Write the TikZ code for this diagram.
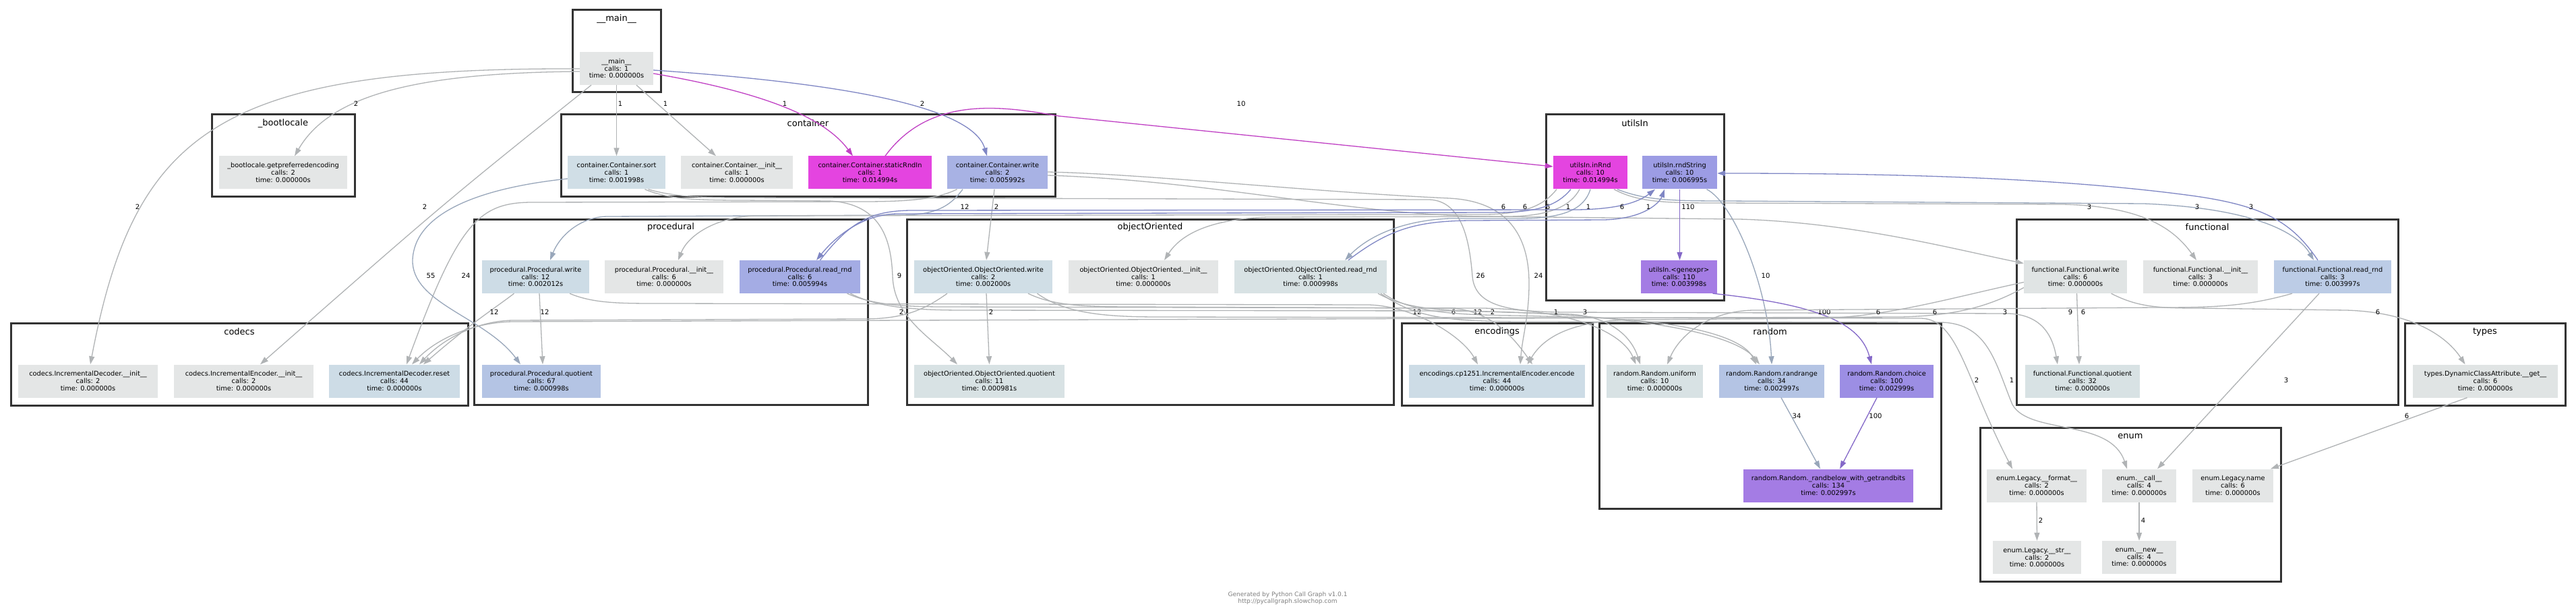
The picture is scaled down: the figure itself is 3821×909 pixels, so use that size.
\documentclass[tikz,border=0pt]{standalone}
\usepackage{fontspec}
\setmainfont{DejaVu Sans}
\usepackage{tikz}
\usetikzlibrary{arrows.meta}

\definecolor{cGrey}{HTML}{E4E6E6}
\definecolor{cSort}{HTML}{D0DEE6}
\definecolor{cPale}{HTML}{CDDCE6}
\definecolor{cMist}{HTML}{D8E2E4}
\definecolor{cMistB}{HTML}{E0E4E4}
\definecolor{cBlue}{HTML}{B4C4E4}
\definecolor{cSky}{HTML}{BCCCE6}
\definecolor{cLav}{HTML}{A8B2E4}
\definecolor{cLavB}{HTML}{A4ACE4}
\definecolor{cViolet}{HTML}{9C9CE4}
\definecolor{cVioletB}{HTML}{9C8EE4}
\definecolor{cPurple}{HTML}{A47CE4}
\definecolor{cMag}{HTML}{E444E0}
\definecolor{grpline}{HTML}{333333}
\definecolor{egrey}{HTML}{B0B3B5}
\definecolor{eslate}{HTML}{98A6BA}
\definecolor{eblue}{HTML}{7F86C4}
\definecolor{emag}{HTML}{C040C4}
\definecolor{epurp}{HTML}{8468C8}
\definecolor{credit}{HTML}{808080}

\newcommand{\fnfont}{\fontsize{9.8}{10.8}\selectfont}
\newcommand{\grpfont}{\fontsize{13}{15}\selectfont}
\newcommand{\lblfont}{\fontsize{10}{12}\selectfont}
\newcommand{\credfont}{\fontsize{9}{10}\selectfont}

\tikzset{
  fn/.style={rectangle, inner sep=0pt, minimum height=49pt, align=center, font=\fnfont},
  grp/.style={draw=grpline, line width=3pt},
  grptitle/.style={inner sep=0pt, font=\grpfont},
  ge/.style={draw=egrey, line width=1.3pt, -{Triangle[length=12pt,width=8pt]}},
  se/.style={ge, draw=eslate},
  be/.style={ge, draw=eblue},
  me/.style={ge, draw=emag},
  pe/.style={ge, draw=epurp},
  lbl/.style={inner sep=0pt, font=\lblfont},
}

\begin{document}
\begin{tikzpicture}[x=1pt,y=-1pt]
\fill[white] (0,0) rectangle (3821,909);
\useasboundingbox (0,0) rectangle (3821,909);

% module clusters
\draw[grp] (849,15) rectangle (980,137);
\node[grptitle] (tMain) at (914.5,28) {\_\_main\_\_};
\draw[grp] (314,170) rectangle (526,291);
\node[grptitle] (tBoot) at (420,183) {\_bootlocale};
\draw[grp] (832,170) rectangle (1565,291);
\node[grptitle] (tCont) at (1198.5,183) {container};
\draw[grp] (2293,170) rectangle (2557,445);
\node[grptitle] (tUtils) at (2425,183) {utilsIn};
\draw[grp] (703,325) rectangle (1287,600);
\node[grptitle] (tProc) at (995,337) {procedural};
\draw[grp] (1345,325) rectangle (2067,600);
\node[grptitle] (tOO) at (1706,337) {objectOriented};
\draw[grp] (2991,325) rectangle (3557,600);
\node[grptitle] (tFunc) at (3274,337) {functional};
\draw[grp] (16,479) rectangle (694,601);
\node[grptitle] (tCodecs) at (355,492) {codecs};
\draw[grp] (2079,479) rectangle (2362,601);
\node[grptitle] (tEnc) at (2220.5,492) {encodings};
\draw[grp] (2372,479) rectangle (2879,754);
\node[grptitle] (tRandom) at (2625.5,492) {random};
\draw[grp] (3567,479) rectangle (3805,601);
\node[grptitle] (tTypes) at (3686,492) {types};
\draw[grp] (2937,634) rectangle (3383,862);
\node[grptitle] (tEnum) at (3160,647) {enum};

% functions
\node[fn, fill=cGrey, minimum width=109pt] (main) at (914.5,101.5) {\_\_main\_\_\\calls: 1\\time: 0.000000s};
\node[fn, fill=cGrey, minimum width=190pt] (boot) at (420,256) {\_bootlocale.getpreferredencoding\\calls: 2\\time: 0.000000s};
\node[fn, fill=cSort, minimum width=145pt] (sort) at (914.5,256) {container.Container.sort\\calls: 1\\time: 0.001998s};
\node[fn, fill=cGrey, minimum width=166pt] (Cinit) at (1093,256) {container.Container.\_\_init\_\_\\calls: 1\\time: 0.000000s};
\node[fn, fill=cMag, minimum width=183pt] (static) at (1290.5,256) {container.Container.staticRndIn\\calls: 1\\time: 0.014994s};
\node[fn, fill=cLav, minimum width=149pt] (Cwrite) at (1479.5,256) {container.Container.write\\calls: 2\\time: 0.005992s};
\node[fn, fill=cMag, minimum width=110pt] (inRnd) at (2359,256) {utilsIn.inRnd\\calls: 10\\time: 0.014994s};
\node[fn, fill=cViolet, minimum width=111pt] (rndStr) at (2491.5,256) {utilsIn.rndString\\calls: 10\\time: 0.006995s};
\node[fn, fill=cPale, minimum width=159pt] (pwrite) at (794.5,410.5) {procedural.Procedural.write\\calls: 12\\time: 0.002012s};
\node[fn, fill=cGrey, minimum width=176pt] (pinit) at (985,410.5) {procedural.Procedural.\_\_init\_\_\\calls: 6\\time: 0.000000s};
\node[fn, fill=cLavB, minimum width=179pt] (pread) at (1186.5,410.5) {procedural.Procedural.read\_rnd\\calls: 6\\time: 0.005994s};
\node[fn, fill=cSort, minimum width=205pt] (OOwrite) at (1458.5,410.5) {objectOriented.ObjectOriented.write\\calls: 2\\time: 0.002000s};
\node[fn, fill=cGrey, minimum width=222pt] (OOinit) at (1696,410.5) {objectOriented.ObjectOriented.\_\_init\_\_\\calls: 1\\time: 0.000000s};
\node[fn, fill=cMist, minimum width=226pt] (OOread) at (1944,410.5) {objectOriented.ObjectOriented.read\_rnd\\calls: 1\\time: 0.000998s};
\node[fn, fill=cPurple, minimum width=113pt] (genexpr) at (2490.5,410.5) {utilsIn.<genexpr>\\calls: 110\\time: 0.003998s};
\node[fn, fill=cMistB, minimum width=153pt] (Fwrite) at (3078.5,410.5) {functional.Functional.write\\calls: 6\\time: 0.000000s};
\node[fn, fill=cGrey, minimum width=170pt] (Finit) at (3264,410.5) {functional.Functional.\_\_init\_\_\\calls: 3\\time: 0.000000s};
\node[fn, fill=cSky, minimum width=174pt] (Fread) at (3460,410.5) {functional.Functional.read\_rnd\\calls: 3\\time: 0.003997s};
\node[fn, fill=cGrey, minimum width=207pt] (IDinit) at (130.5,565) {codecs.IncrementalDecoder.\_\_init\_\_\\calls: 2\\time: 0.000000s};
\node[fn, fill=cGrey, minimum width=207pt] (IEinit) at (361.5,565) {codecs.IncrementalEncoder.\_\_init\_\_\\calls: 2\\time: 0.000000s};
\node[fn, fill=cPale, minimum width=194pt] (reset) at (585,565) {codecs.IncrementalDecoder.reset\\calls: 44\\time: 0.000000s};
\node[fn, fill=cBlue, minimum width=176pt] (pquot) at (803,565) {procedural.Procedural.quotient\\calls: 67\\time: 0.000998s};
\node[fn, fill=cMist, minimum width=223pt] (OOquot) at (1467.5,565) {objectOriented.ObjectOriented.quotient\\calls: 11\\time: 0.000981s};
\node[fn, fill=cPale, minimum width=261pt] (encode) at (2220.5,565) {encodings.cp1251.IncrementalEncoder.encode\\calls: 44\\time: 0.000000s};
\node[fn, fill=cMist, minimum width=143pt] (uniform) at (2454.5,565) {random.Random.uniform\\calls: 10\\time: 0.000000s};
\node[fn, fill=cBlue, minimum width=156pt] (randrange) at (2628,565) {random.Random.randrange\\calls: 34\\time: 0.002997s};
\node[fn, fill=cVioletB, minimum width=139pt] (choice) at (2798.5,565) {random.Random.choice\\calls: 100\\time: 0.002999s};
\node[fn, fill=cMist, minimum width=170pt] (Fquot) at (3089,565) {functional.Functional.quotient\\calls: 32\\time: 0.000000s};
\node[fn, fill=cMistB, minimum width=215pt] (types) at (3686.5,565) {types.DynamicClassAttribute.\_\_get\_\_\\calls: 6\\time: 0.000000s};
\node[fn, fill=cPurple, minimum width=252pt] (randbelow) at (2712,720) {random.Random.\_randbelow\_with\_getrandbits\\calls: 134\\time: 0.002997s};
\node[fn, fill=cGrey, minimum width=148pt] (format) at (3021,720) {enum.Legacy.\_\_format\_\_\\calls: 2\\time: 0.000000s};
\node[fn, fill=cGrey, minimum width=110pt] (call) at (3173,720) {enum.\_\_call\_\_\\calls: 4\\time: 0.000000s};
\node[fn, fill=cGrey, minimum width=120pt] (name) at (3312,720) {enum.Legacy.name\\calls: 6\\time: 0.000000s};
\node[fn, fill=cGrey, minimum width=131pt] (str) at (3021.5,826.5) {enum.Legacy.\_\_str\_\_\\calls: 2\\time: 0.000000s};
\node[fn, fill=cGrey, minimum width=110pt] (new) at (3173,826.5) {enum.\_\_new\_\_\\calls: 4\\time: 0.000000s};

% calls from __main__
\draw[ge] ([yshift=-4.5pt]main.west) .. controls (620,108) and (490,140) .. ([xshift=17pt]boot.north) node[lbl, at={(528,154)}] {2};
\draw[ge] ([yshift=-0.5pt]main.west) .. controls (330,100) and (200,190) .. ([xshift=3.5pt]IDinit.north) node[lbl, at={(204,307)}] {2};
\draw[ge] ([xshift=-37.5pt]main.south) .. controls (660,300) .. ([xshift=24.5pt]IEinit.north) node[lbl, at={(630,307)}] {2};
\draw[ge] (main.south) -- (sort.north) node[lbl, at={(920,154)}] {1};
\draw[ge] ([xshift=29.5pt]main.south) -- ([xshift=-31pt]Cinit.north) node[lbl, at={(987,154)}] {1};
\draw[me] ([yshift=-7.5pt]main.east) .. controls (1120,135) and (1220,170) .. ([xshift=-25.5pt]static.north) node[lbl, at={(1164,154)}] {1};
\draw[be] ([yshift=-2.5pt]main.east) .. controls (1200,120) and (1440,150) .. ([xshift=-15.5pt]Cwrite.north) node[lbl, at={(1368,154)}] {2};

% container
\draw[me] ([xshift=22.5pt]static.north) .. controls (1380,140) and (1490,158) .. (1570,172) -- ([yshift=9pt]inRnd.west) node[lbl, at={(1841,154)}] {10};
\draw[se] ([xshift=-51.5pt]Cwrite.south) .. controls (1410,305) and (1390,318) .. (1340,319) -- (900,321) .. controls (860,322) and (830,350) .. ([xshift=21.5pt]pwrite.north) node[lbl, at={(1431,307)}] {12};
\draw[ge] ([xshift=-4.5pt]Cwrite.south) -- ([xshift=4.5pt]OOwrite.north) node[lbl, at={(1478,307)}] {2};
\draw[ge] ([xshift=-60pt]Cwrite.south) .. controls (1390,295) and (1350,299) .. (1280,299) -- (790,300) .. controls (710,300) and (680,330) .. ([xshift=18pt]reset.north) node[lbl, at={(691,409)}] {24};
\draw[ge] ([yshift=1pt]Cwrite.east) .. controls (1700,258) and (1950,285) .. (2150,294) .. controls (2245,299) and (2268,360) .. (2268,420) .. controls (2268,470) and (2258,500) .. ([xshift=34.5pt]encode.north) node[lbl, at={(2282,409)}] {24};
\draw[ge] ([yshift=-4pt]Cwrite.east) .. controls (1800,268) and (2000,318) .. (2200,321) -- (2580,325) .. controls (2750,330) and (2900,370) .. ([yshift=20pt]Fwrite.west) node[lbl, at={(2296,307)}] {6};
\draw[se] ([yshift=-9pt]sort.west) .. controls (700,280) and (615,320) .. (612,385) .. controls (610,450) and (720,470) .. ([xshift=-31pt]pquot.north) node[lbl, at={(639,409)}] {55};
\draw[ge] ([xshift=42pt]sort.south) .. controls (990,295) and (1030,297) .. (1100,297) -- (1230,298) .. controls (1310,302) and (1322,360) .. (1324,410) .. controls (1326,470) and (1380,500) .. ([xshift=-47.5pt]OOquot.north) node[lbl, at={(1334,409)}] {9};
\draw[ge] ([xshift=47pt]sort.south) .. controls (1000,292) and (1040,293) .. (1100,293) -- (2120,296) .. controls (2170,298) and (2180,360) .. (2184,410) .. controls (2188,455) and (2240,462) .. (2320,463) -- (2980,465) .. controls (3030,467) and (3045,500) .. ([xshift=-37pt]Fquot.north) node[lbl, at={(2196,409)}] {26} node[lbl, at={(3071,463)}] {9};

% utilsIn
\draw[ge] ([xshift=-50pt]inRnd.south) .. controls (2290,305) and (2260,318) .. (2200,318) -- (1120,320) .. controls (1060,322) and (1020,350) .. ([xshift=21pt]pinit.north) node[lbl, at={(2230,307)}] {6};
\draw[be] ([xshift=-29pt]inRnd.south) .. controls (2310,305) and (2280,315) .. (2220,315) -- (1330,317) .. controls (1280,318) and (1240,350) .. ([xshift=24.5pt]pread.north) node[lbl, at={(2262,307)}] {6};
\draw[ge] ([xshift=-16pt]inRnd.south) .. controls (2330,305) and (2300,320) .. (2240,321) -- (1880,322) .. controls (1790,325) and (1750,350) .. ([xshift=31pt]OOinit.north) node[lbl, at={(2326,307)}] {1};
\draw[se] (inRnd.south) .. controls (2350,310) and (2320,323) .. (2260,324) -- (2150,324) .. controls (2080,327) and (2030,350) .. ([xshift=51pt]OOread.north) node[lbl, at={(2356,307)}] {1};
\draw[ge] ([xshift=35pt]inRnd.south) .. controls (2430,300) and (2470,301) .. (2550,301) -- (3060,303) .. controls (3180,306) and (3225,340) .. ([xshift=-6pt]Finit.north) node[lbl, at={(3099,307)}] {3};
\draw[se] ([xshift=40pt]inRnd.south) .. controls (2440,297) and (2480,298) .. (2560,298) -- (3180,302) .. controls (3330,308) and (3405,340) .. ([xshift=-28pt]Fread.north) node[lbl, at={(3259,307)}] {3};
\draw[pe] (rndStr.south) -- ([xshift=1pt]genexpr.north) node[lbl, at={(2504,307)}] {110};
\draw[se] ([xshift=40pt]rndStr.south) .. controls (2570,300) and (2622,420) .. (randrange.north) node[lbl, at={(2619,409)}] {10};
\draw[pe] ([xshift=50pt]genexpr.south) .. controls (2700,452) and (2760,480) .. ([xshift=-22.5pt]choice.north) node[lbl, at={(2706,463)}] {100};

% read_rnd -> rndString
\draw[be] ([xshift=30pt]pread.north) .. controls (1260,330) and (1290,313) .. (1350,312) -- (2340,311) .. controls (2400,310) and (2430,300) .. ([xshift=-36.5pt]rndStr.south) node[lbl, at={(2406,307)}] {6};
\draw[be] ([xshift=56pt]OOread.north) .. controls (2060,340) and (2100,328) .. (2180,327) -- (2380,326) .. controls (2440,324) and (2462,300) .. ([xshift=-22.5pt]rndStr.south) node[lbl, at={(2445,307)}] {1};
\draw[be] ([xshift=-22pt]Fread.north) .. controls (3400,330) and (3360,305) .. (3250,290) .. controls (3050,263) and (2800,257) .. ([yshift=-1pt]rndStr.east) node[lbl, at={(3339,307)}] {3};

% procedural
\draw[ge] ([xshift=-32pt]pwrite.south) .. controls (730,460) and (700,478) .. ([xshift=43pt]reset.north) node[lbl, at={(733,463)}] {12};
\draw[ge] ([xshift=5.5pt]pwrite.south) -- ([xshift=2pt]pquot.north) node[lbl, at={(808,463)}] {12};
\draw[ge] ([xshift=50.5pt]pwrite.south) .. controls (880,450) and (920,450) .. (980,450) -- (2030,452) .. controls (2100,454) and (2170,500) .. ([xshift=-28.5pt]encode.north) node[lbl, at={(2102,463)}] {12};
\draw[ge] ([xshift=70pt]pread.south) .. controls (1290,450) and (1330,455) .. (1400,455) -- (2200,457) .. controls (2350,460) and (2410,500) .. ([xshift=-28pt]uniform.north) node[lbl, at={(2156,463)}] {6};
\draw[ge] ([xshift=75pt]pread.south) .. controls (1300,455) and (1350,460) .. (1430,460) -- (2150,461) .. controls (2400,463) and (2570,490) .. ([xshift=-18pt]randrange.north) node[lbl, at={(2192,463)}] {12};

% objectOriented
\draw[ge] ([xshift=-53.5pt]OOwrite.south) .. controls (1370,460) and (1340,473) .. (1280,473) -- (760,475) .. controls (710,476) and (660,500) .. ([xshift=37pt]reset.north) node[lbl, at={(1337,463)}] {2};
\draw[ge] ([xshift=4.5pt]OOwrite.south) -- (OOquot.north) node[lbl, at={(1470,463)}] {2};
\draw[ge] ([xshift=66.5pt]OOwrite.south) .. controls (1560,452) and (1600,455) .. (1680,455) -- (2150,457) .. controls (2210,459) and (2245,500) .. ([xshift=52.5pt]encode.north) node[lbl, at={(2214,463)}] {2};
\draw[ge] ([xshift=80pt]OOwrite.south) .. controls (1580,465) and (1640,470) .. (1720,470) -- (2850,472) .. controls (2905,474) and (2915,560) .. ([xshift=-36pt]format.north) node[lbl, at={(2932,564)}] {2};
\draw[ge] ([xshift=100pt]OOread.south) .. controls (2080,455) and (2120,460) .. (2200,462) -- (2330,466) .. controls (2390,470) and (2420,500) .. ([xshift=-21.5pt]uniform.north) node[lbl, at={(2308,463)}] {1};
\draw[ge] ([xshift=108pt]OOread.south) .. controls (2090,462) and (2150,467) .. (2250,468) -- (2330,470) .. controls (2500,474) and (2585,500) .. ([xshift=-23pt]randrange.north) node[lbl, at={(2351,463)}] {3};
\draw[ge] ([xshift=104pt]OOread.south) .. controls (2100,472) and (2150,476) .. (2250,477) -- (2880,478) .. controls (2950,480) and (2960,540) .. (2985,600) .. controls (3010,645) and (3130,620) .. ([xshift=-18pt]call.north) node[lbl, at={(2984,564)}] {1};

% functional
\draw[ge] ([yshift=-8pt]Fwrite.west) .. controls (2900,440) and (2800,470) .. (2700,472) -- (2420,474) .. controls (2330,476) and (2290,500) .. ([xshift=45pt]encode.north) node[lbl, at={(2786,463)}] {6};
\draw[ge] ([yshift=-16pt]Fwrite.west) .. controls (2950,455) and (2900,468) .. (2820,470) -- (760,477) .. controls (705,478) and (650,500) .. ([xshift=26pt]reset.north) node[lbl, at={(2870,463)}] {6};
\draw[ge] ([xshift=2pt]Fwrite.south) -- ([xshift=-5pt]Fquot.north) node[lbl, at={(3090,463)}] {6};
\draw[ge] ([xshift=53pt]Fwrite.south) .. controls (3170,455) and (3200,457) .. (3260,457) -- (3480,460) .. controls (3580,463) and (3630,500) .. ([xshift=-30pt]types.north) node[lbl, at={(3527,463)}] {6};
\draw[ge] ([xshift=-60pt]Fread.south) .. controls (3330,455) and (3280,456) .. (3200,456) -- (2600,460) .. controls (2530,462) and (2490,500) .. ([xshift=18.5pt]uniform.north) node[lbl, at={(2974,463)}] {3};
\draw[ge] ([xshift=-20pt]Fread.south) -- ([xshift=27pt]call.north) node[lbl, at={(3391,564)}] {3};

% random, types, enum
\draw[se] ([xshift=14pt]randrange.south) -- ([xshift=-12pt]randbelow.north) node[lbl, at={(2665,617)}] {34};
\draw[pe] ([xshift=-14.5pt]choice.south) -- ([xshift=17pt]randbelow.north) node[lbl, at={(2782,617)}] {100};
\draw[ge] ([xshift=-27pt]types.south) -- ([xshift=56pt]name.north) node[lbl, at={(3570,617)}] {6};
\draw[ge] (format.south) -- (str.north) node[lbl, at={(3027,772)}] {2};
\draw[ge] (call.south) -- (new.north) node[lbl, at={(3179,772)}] {4};

\node[font=\credfont, text=credit, align=center, inner sep=0pt] (creditnote) at (1910,887) {Generated by Python Call Graph v1.0.1\\http://pycallgraph.slowchop.com};
\end{tikzpicture}
\end{document}
